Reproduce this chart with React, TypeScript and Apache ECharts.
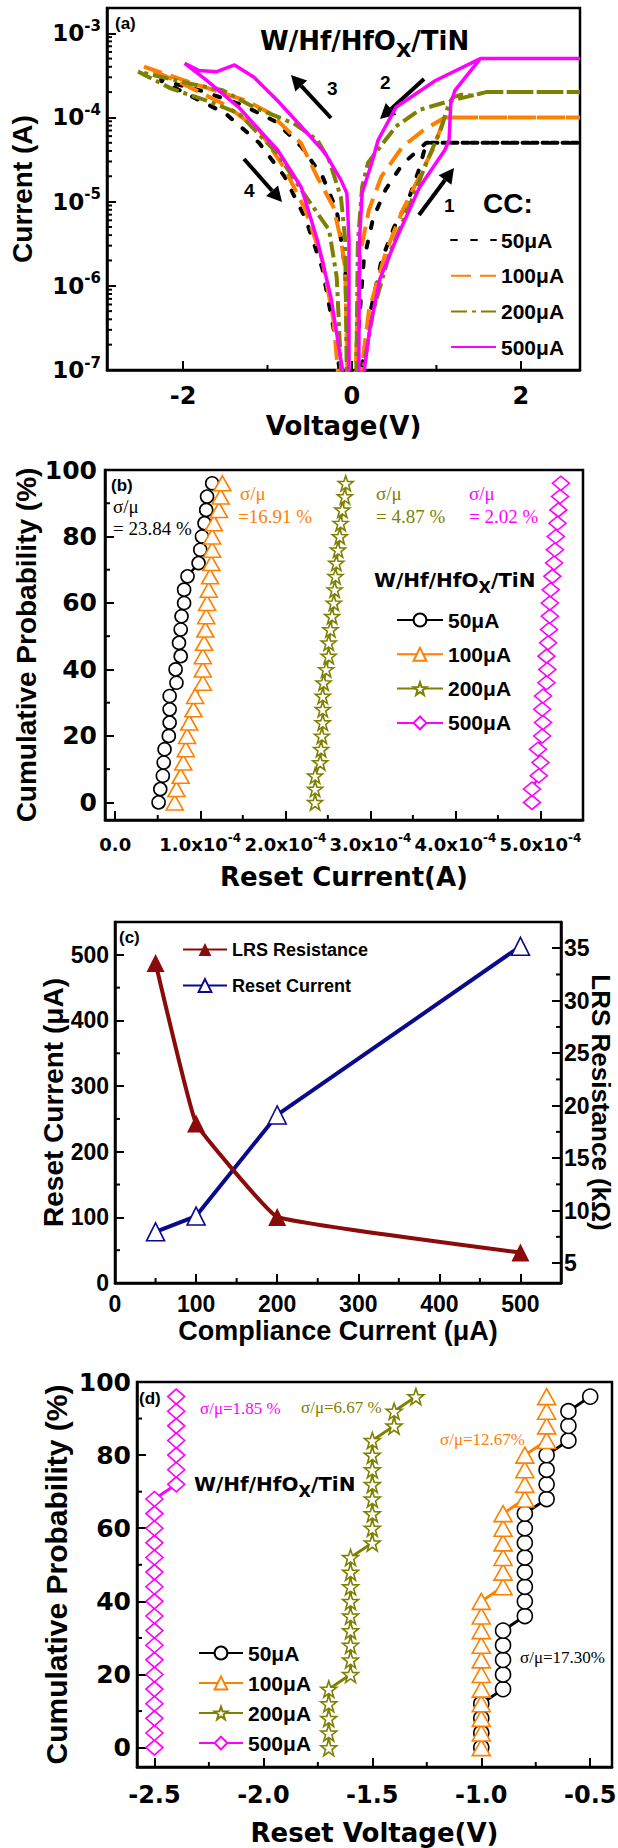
import React, { useEffect, useRef } from "react";
import * as echarts from "echarts";

// ---------------- Panel (a): I-V hysteresis loops ----------------
const ivVolt50 = [0.08, 0.2, 0.35, 0.5, 0.66, 0.8, 0.88, 2.7, 0.88, 0.6, 0.4, 0.25, 0.14, 0.08, 0.05, -0.03, -0.08, -0.18, -0.35, -0.6, -0.9, -1.3, -1.8, -2.28, -1.9, -1.5, -1.1, -0.8, -0.55, -0.35, -0.2, -0.12];
const ivCurr50 = [6.3e-8, 4.0e-7, 2.0e-6, 5.0e-6, 1.0e-5, 2.5e-5, 5.0e-5, 5.0e-5, 5.0e-5, 2.8e-5, 1.4e-5, 6.3e-6, 2.0e-6, 3.2e-7, 6.3e-8, 6.3e-8, 1.6e-6, 7.9e-6, 2.0e-5, 4.5e-5, 8.9e-5, 1.41e-4, 2.1e-4, 2.8e-4, 1.78e-4, 1.12e-4, 5.0e-5, 2.0e-5, 6.3e-6, 1.6e-6, 2.5e-7, 6.3e-8];
const ivVolt100 = [0.09, 0.2, 0.4, 0.6, 0.8, 0.95, 1.1, 2.7, 1.1, 0.85, 0.6, 0.35, 0.2, 0.1, 0.06, 0.04, -0.05, -0.08, -0.13, -0.22, -0.41, -0.6, -0.97, -1.25, -1.81, -2.46, -2.0, -1.5, -1.1, -0.8, -0.55, -0.35, -0.22, -0.15];
const ivCurr100 = [6.3e-8, 5.0e-7, 2.5e-6, 7.9e-6, 2.0e-5, 4.0e-5, 1.0e-4, 1.0e-4, 1.0e-4, 7.1e-5, 4.5e-5, 2.0e-5, 7.9e-6, 2.5e-6, 3.2e-7, 6.3e-8, 6.3e-8, 1.6e-6, 3.5e-6, 8.7e-6, 1.95e-5, 4.9e-5, 1.12e-4, 1.58e-4, 2.4e-4, 4.0e-4, 2.5e-4, 1.41e-4, 7.1e-5, 2.5e-5, 7.9e-6, 2.0e-6, 4.0e-7, 6.3e-8];
const ivVolt200 = [0.1, 0.25, 0.45, 0.7, 0.9, 1.05, 1.15, 1.2, 1.3, 1.42, 1.59, 2.7, 1.59, 1.17, 0.8, 0.52, 0.19, 0.12, 0.07, 0.05, -0.06, -0.08, -0.13, -0.27, -0.41, -0.69, -1.16, -1.53, -1.9, -2.53, -2.14, -1.72, -1.34, -0.88, -0.6, -0.27, -0.18, -0.12];
const ivCurr200 = [6.3e-8, 5.0e-7, 2.5e-6, 1.0e-5, 3.2e-5, 7.1e-5, 1.48e-4, 1.74e-4, 1.86e-4, 1.82e-4, 2.0e-4, 2.0e-4, 2.0e-4, 1.58e-4, 1.23e-4, 7.8e-5, 2.9e-5, 1.48e-5, 3.2e-6, 6.3e-8, 6.3e-8, 3.5e-6, 1.12e-5, 3.1e-5, 5.4e-5, 8.5e-5, 1.32e-4, 2.1e-4, 2.5e-4, 3.5e-4, 2.2e-4, 1.58e-4, 1.12e-4, 3.7e-5, 1.38e-5, 4.6e-6, 1.26e-6, 6.3e-8];
const ivVolt500 = [0.12, 0.21, 0.33, 0.52, 0.8, 1.1, 1.15, 1.17, 1.22, 1.52, 2.7, 1.52, 0.99, 0.52, 0.31, 0.235, 0.12, 0.09, 0.08, -0.035, -0.035, -0.06, -0.13, -0.32, -0.6, -0.88, -1.16, -1.39, -1.6, -1.81, -1.98, -1.72, -1.34, -0.88, -0.6, -0.41, -0.25, -0.08];
const ivCurr500 = [6.3e-8, 3.0e-7, 1.2e-6, 3.5e-6, 1.48e-5, 4.1e-5, 5.4e-5, 1.48e-4, 2.1e-4, 5.0e-4, 5.0e-4, 5.0e-4, 2.75e-4, 1.32e-4, 5.4e-5, 2.9e-5, 1.26e-5, 3.5e-6, 6.3e-8, 6.3e-8, 3.5e-6, 1.26e-5, 1.8e-5, 3.8e-5, 7.8e-5, 1.58e-4, 3.0e-4, 4.2e-4, 3.5e-4, 3.6e-4, 4.4e-4, 2.75e-4, 1.32e-4, 4.1e-5, 1.48e-5, 3.5e-6, 7.4e-7, 6.3e-8];
const ccLabels = ["50μA", "100μA", "200μA", "500μA"];
const aXMajor = [-2, 0, 2];
const aXMinor = [-1, 1];
const aYDecades = [1e-7, 1e-6, 1e-5, 1e-4, 1e-3];
const aYMinorMult = [2, 3, 4, 5, 6, 7, 8, 9];

// ---------------- Panel (b): reset current distribution ----------------
const cumProb = [0, 4, 8, 12, 16, 20, 24, 28, 32, 36, 40, 44, 48, 52, 56, 60, 64, 68, 72, 76, 80, 84, 88, 92, 96];
const resetI50 = [0.51e-4, 0.53e-4, 0.56e-4, 0.57e-4, 0.58e-4, 0.63e-4, 0.64e-4, 0.64e-4, 0.64e-4, 0.72e-4, 0.71e-4, 0.77e-4, 0.75e-4, 0.77e-4, 0.78e-4, 0.81e-4, 0.81e-4, 0.85e-4, 0.98e-4, 1.0e-4, 1.02e-4, 1.05e-4, 1.07e-4, 1.08e-4, 1.14e-4];
const resetI100 = [0.7e-4, 0.72e-4, 0.77e-4, 0.8e-4, 0.83e-4, 0.845e-4, 0.87e-4, 0.92e-4, 0.94e-4, 1.03e-4, 1.03e-4, 1.03e-4, 1.045e-4, 1.06e-4, 1.07e-4, 1.08e-4, 1.1e-4, 1.115e-4, 1.13e-4, 1.14e-4, 1.14e-4, 1.16e-4, 1.22e-4, 1.24e-4, 1.26e-4];
const resetI200 = [2.35e-4, 2.35e-4, 2.35e-4, 2.41e-4, 2.42e-4, 2.43e-4, 2.44e-4, 2.44e-4, 2.44e-4, 2.45e-4, 2.48e-4, 2.51e-4, 2.51e-4, 2.53e-4, 2.55e-4, 2.57e-4, 2.58e-4, 2.59e-4, 2.6e-4, 2.62e-4, 2.64e-4, 2.65e-4, 2.67e-4, 2.7e-4, 2.71e-4];
const resetI500 = [4.9e-4, 4.9e-4, 4.98e-4, 5.0e-4, 4.97e-4, 5.02e-4, 5.03e-4, 5.02e-4, 5.03e-4, 5.07e-4, 5.08e-4, 5.07e-4, 5.09e-4, 5.1e-4, 5.11e-4, 5.11e-4, 5.12e-4, 5.14e-4, 5.16e-4, 5.17e-4, 5.18e-4, 5.2e-4, 5.21e-4, 5.23e-4, 5.24e-4];
const bXMajor = [0, 1e-4, 2e-4, 3e-4, 4e-4, 5e-4];
const bXMinor = [0.5e-4, 1.5e-4, 2.5e-4, 3.5e-4, 4.5e-4];
const probMajor = [0, 20, 40, 60, 80, 100];
const probMinor = [10, 30, 50, 70, 90];
const sigmaB = ["= 23.84 %", "=16.91 %", "= 4.87 %", "= 2.02 %"];

// ---------------- Panel (c): vs compliance current ----------------
const compliance = [50, 100, 200, 500];
const lrsResistance = [33.6, 18.3, 9.4, 6.0];
const resetCurrentUA = [78, 102, 256, 513];
const cXMajor = [0, 100, 200, 300, 400, 500];
const cXMinor = [50, 150, 250, 350, 450];
const cYLMajor = [0, 100, 200, 300, 400, 500];
const cYLMinor = [50, 150, 250, 350, 450];
const cYRMajor = [5, 10, 15, 20, 25, 30, 35];
const cYRMinor = [7.5, 12.5, 17.5, 22.5, 27.5, 32.5];

// ---------------- Panel (d): reset voltage distribution ----------------
const resetV50 = [-1.0, -1.0, -1.0, -1.0, -0.9, -0.9, -0.9, -0.9, -0.9, -0.8, -0.8, -0.8, -0.8, -0.8, -0.8, -0.8, -0.8, -0.7, -0.7, -0.7, -0.7, -0.6, -0.6, -0.6, -0.5];
const resetV100 = [-1.0, -1.0, -1.0, -1.0, -1.0, -1.0, -1.0, -1.0, -1.0, -1.0, -1.0, -0.9, -0.9, -0.9, -0.9, -0.9, -0.9, -0.8, -0.8, -0.8, -0.8, -0.7, -0.7, -0.7, -0.7];
const resetV200 = [-1.7, -1.7, -1.7, -1.7, -1.7, -1.6, -1.6, -1.6, -1.6, -1.6, -1.6, -1.6, -1.6, -1.6, -1.5, -1.5, -1.5, -1.5, -1.5, -1.5, -1.5, -1.5, -1.4, -1.4, -1.3];
const resetV500 = [-2.5, -2.5, -2.5, -2.5, -2.5, -2.5, -2.5, -2.5, -2.5, -2.5, -2.5, -2.5, -2.5, -2.5, -2.5, -2.5, -2.5, -2.5, -2.4, -2.4, -2.4, -2.4, -2.4, -2.4, -2.4];
const dXMajor = [-2.5, -2.0, -1.5, -1.0, -0.5];
const dXMinor = [-2.25, -1.75, -1.25, -0.75];
const sigmaD = ["σ/μ=17.30%", "σ/μ=12.67%", "σ/μ=6.67 %", "σ/μ=1.85 %"];

const COLORS = ["#000000", "#FF8000", "#808000", "#FF00FF"];
const FONT_SANS = '"Liberation Sans", Arial, sans-serif';
const FONT_WIDE = '"DejaVu Sans", sans-serif';
const FONT_SERIF = '"Liberation Serif", "Times New Roman", serif';
const STAR = "path://M50 0L61.76 33.82L97.55 34.55L69.02 56.18L79.39 90.45L50 70L20.61 90.45L30.98 56.18L2.45 34.55L38.24 33.82Z";

function axis(gridIndex: number, min: number, max: number, major: number[], label: any, extra: any = {}) {
  return {
    type: "value",
    gridIndex,
    min,
    max,
    nameMoveOverlap: false,
    axisLine: { show: true, onZero: false, lineStyle: { color: "#000", width: 2.5 } },
    axisTick: { show: true, inside: true, length: 9, customValues: major, lineStyle: { color: "#000", width: 2 } },
    axisLabel: { customValues: major, hideOverlap: false, color: "#000", fontWeight: "bold", ...label },
    splitLine: { show: false },
    minorTick: { show: false },
    ...extra,
  };
}

function nameStyle(size: number, family: string) {
  return { fontSize: size, fontFamily: family, fontWeight: "bold", color: "#000", verticalAlign: "middle" };
}

function minorTicks(xi: number, yi: number, values: number[], dir: "x" | "y", edge: number, len: number) {
  return {
    type: "custom",
    xAxisIndex: xi,
    yAxisIndex: yi,
    silent: true,
    clip: false,
    z: 10,
    data: values.map((v) => (dir === "y" ? [edge, v] : [v, edge])),
    renderItem: (_p: any, api: any) => {
      const pt = api.coord([api.value(0), api.value(1)]);
      const shape =
        dir === "y"
          ? { x1: pt[0], y1: pt[1], x2: pt[0] + len, y2: pt[1] }
          : { x1: pt[0], y1: pt[1], x2: pt[0], y2: pt[1] - len };
      return { type: "line", shape, style: { stroke: "#000", lineWidth: 2 } };
    },
  };
}

function arrow(x1: number, y1: number, x2: number, y2: number) {
  const dx = x2 - x1, dy = y2 - y1;
  const L = Math.hypot(dx, dy);
  const ux = dx / L, uy = dy / L;
  const hl = 15, hw = 8;
  const bx = x2 - ux * hl, by = y2 - uy * hl;
  return [
    { type: "line", shape: { x1, y1, x2: bx, y2: by }, style: { stroke: "#000", lineWidth: 4 } },
    { type: "polygon", shape: { points: [[x2, y2], [bx - uy * hw, by + ux * hw], [bx + uy * hw, by - ux * hw]] }, style: { fill: "#000" } },
  ];
}

function txt(x: number, y: number, text: string, size: number, color = "#000", family = FONT_SANS, weight = "bold") {
  return { type: "text", x, y, z: 50, style: { text, fill: color, fontSize: size, fontFamily: family, fontWeight: weight, align: "left", verticalAlign: "middle" } };
}

function deviceLabel(x: number, y: number, size: number, sub: number, pad: number) {
  return {
    type: "text",
    x,
    y,
    z: 50,
    style: {
      text: "{m|W/Hf/HfO}{s|X}{m|/TiN}",
      align: "left",
      verticalAlign: "middle",
      rich: {
        m: { fontSize: size, fontFamily: FONT_WIDE, fontWeight: "bold", fill: "#000", lineHeight: size + 4, verticalAlign: "middle" },
        s: { fontSize: sub, fontFamily: FONT_WIDE, fontWeight: "bold", fill: "#000", lineHeight: sub, padding: [pad, 0, 0, 0], verticalAlign: "top" },
      },
    },
  };
}

export default function App() {
  const ref = useRef<HTMLDivElement>(null);

  useEffect(() => {
    document.body.style.margin = "0";
    if (!ref.current) return;
    const chart = echarts.init(ref.current, undefined, { renderer: "svg" });

    const legendNames: Record<string, string> = {};
    ["a", "b", "d"].forEach((p) => ccLabels.forEach((l, k) => (legendNames[p + k] = l)));
    legendNames["cL"] = "LRS Resistance";
    legendNames["cR"] = "Reset Current";

    const ivSets = [
      { v: ivVolt50, i: ivCurr50, style: { type: [6, 14], width: 4, cap: "round" } },
      { v: ivVolt100, i: ivCurr100, style: { type: [20, 9], width: 4 } },
      { v: ivVolt200, i: ivCurr200, style: { type: [16, 5, 4, 5], width: 4 } },
      { v: ivVolt500, i: ivCurr500, style: { type: "solid", width: 3.5 } },
    ];
    const ivSeries = ivSets.map((s, k) => ({
      name: "a" + k,
      type: "line",
      xAxisIndex: 0,
      yAxisIndex: 0,
      symbol: "none",
      clip: true,
      data: s.v.map((v, j) => [v, Math.log10(s.i[j])]),
      lineStyle: { color: COLORS[k], ...s.style },
      itemStyle: { color: COLORS[k] },
      z: 3 + k,
    }));

    const aYMinor: number[] = [];
    aYDecades.slice(0, 4).forEach((d) => aYMinorMult.forEach((m) => aYMinor.push(Math.log10(d * m))));

    const bSym = [
      { symbol: "circle", size: 13 },
      { symbol: "triangle", size: [17, 15] },
      { symbol: STAR, size: 15 },
      { symbol: "diamond", size: [17, 14] },
    ];
    const dSym = [
      { symbol: "circle", size: 15 },
      { symbol: "triangle", size: [18, 16] },
      { symbol: STAR, size: 16 },
      { symbol: "diamond", size: [17, 15] },
    ];
    const bSeries = [resetI50, resetI100, resetI200, resetI500].map((arr, k) => ({
      name: "b" + k,
      type: "line",
      xAxisIndex: 1,
      yAxisIndex: 1,
      data: arr.map((x, j) => [x, cumProb[j]]),
      symbol: bSym[k].symbol,
      symbolSize: bSym[k].size,
      itemStyle: { color: "#fff", borderColor: COLORS[k], borderWidth: 1.6 },
      lineStyle: { color: COLORS[k], width: 2.5 },
      z: 3 + k,
    }));
    const dSeries = [resetV50, resetV100, resetV200, resetV500].map((arr, k) => ({
      name: "d" + k,
      type: "line",
      xAxisIndex: 3,
      yAxisIndex: 4,
      data: arr.map((x, j) => [x, cumProb[j]]),
      symbol: dSym[k].symbol,
      symbolSize: dSym[k].size,
      itemStyle: { color: "#fff", borderColor: COLORS[k], borderWidth: 1.6 },
      lineStyle: { color: COLORS[k], width: 3 },
      z: 3 + k,
    }));

    const RED = "#8B0A0A";
    const NAVY = "#0A0A8C";
    const cSeries = [
      {
        name: "cL",
        type: "line",
        xAxisIndex: 2,
        yAxisIndex: 3,
        data: compliance.map((c, j) => [c, lrsResistance[j]]),
        symbol: "triangle",
        symbolSize: 18,
        smooth: 0.08,
        itemStyle: { color: RED },
        lineStyle: { color: RED, width: 4 },
        z: 4,
      },
      {
        name: "cR",
        type: "line",
        xAxisIndex: 2,
        yAxisIndex: 2,
        data: compliance.map((c, j) => [c, resetCurrentUA[j]]),
        symbol: "triangle",
        symbolSize: 18,
        itemStyle: { color: "#fff", borderColor: NAVY, borderWidth: 1.6 },
        lineStyle: { color: NAVY, width: 4 },
        z: 3,
      },
    ];

    const legendText = (size: number, family = FONT_SANS) => ({ fontSize: size, fontFamily: family, fontWeight: "bold", color: "#000", lineHeight: size + 1 });
    const fmt = (n: string) => legendNames[n];

    const supRich = (b: number, s: number, lh: number) => ({
      b: { fontSize: b, fontFamily: FONT_WIDE, fontWeight: "bold", color: "#000", lineHeight: lh, verticalAlign: "middle" },
      s: { fontSize: s, fontFamily: FONT_WIDE, fontWeight: "bold", color: "#000", lineHeight: s, verticalAlign: "top" },
    });

    const option: any = {
      animation: false,
      backgroundColor: "#fff",
      grid: [
        { left: 107, top: 8, width: 473, height: 362 },
        { left: 105, top: 470, width: 478, height: 350 },
        { left: 115, top: 922, width: 446, height: 361 },
        { left: 137, top: 1382, width: 475, height: 385 },
      ].map((g) => ({ ...g, show: true, borderColor: "#000", borderWidth: 2.5, backgroundColor: "transparent", containLabel: false, outerBoundsMode: "none" })),
      xAxis: [
        axis(0, -2.9, 2.7, aXMajor, { fontSize: 24, fontFamily: FONT_WIDE, margin: 14, formatter: (v: number) => String(v) }, {
          name: "Voltage(V)", nameLocation: "middle", nameGap: 56, nameTextStyle: nameStyle(26, FONT_WIDE),
        }),
        axis(1, -1.2e-5, 5.5e-4, bXMajor, {
          margin: 12,
          formatter: (v: number) => (Math.abs(v) < 1e-12 ? "{b|0.0}" : `{b|${(v * 1e4).toFixed(1)}x10}{s|-4}`),
          rich: supRich(18, 12, 24),
        }, { name: "Reset Current(A)", nameLocation: "middle", nameGap: 57, nameTextStyle: nameStyle(26, FONT_WIDE) }),
        axis(2, 0, 550, cXMajor, { fontSize: 23, fontFamily: FONT_SANS, margin: 9 }, {
          name: "Compliance Current (μA)", nameLocation: "middle", nameGap: 48, nameTextStyle: nameStyle(27, FONT_SANS),
        }),
        axis(3, -2.58, -0.4, dXMajor, { fontSize: 24, fontFamily: FONT_WIDE, margin: 16, formatter: (v: number) => v.toFixed(1) }, {
          name: "Reset Voltage(V)", nameLocation: "middle", nameGap: 66, nameTextStyle: nameStyle(26, FONT_WIDE),
        }),
      ],
      yAxis: [
        axis(0, -7, -2.7, aYDecades.map((d) => Math.log10(d)), {
          margin: 6,
          formatter: (v: number) => `{b|10}{s|${Math.round(v)}}`,
          rich: supRich(23, 15, 30),
        }, { name: "Current (A)", nameLocation: "middle", nameGap: 85, nameTextStyle: nameStyle(28, FONT_SANS) }),
        axis(1, -5.3, 100, probMajor, { fontSize: 25, fontFamily: FONT_WIDE, margin: 8 }, {
          name: "Cumulative Probability (%)", nameLocation: "middle", nameGap: 79, nameTextStyle: nameStyle(28, FONT_SANS),
        }),
        axis(2, 0, 550, cYLMajor, { fontSize: 23, fontFamily: FONT_SANS, margin: 6 }, {
          name: "Reset Current (μA)", nameLocation: "middle", nameGap: 62, nameTextStyle: nameStyle(28, FONT_SANS),
        }),
        axis(2, 3.1, 37.5, cYRMajor, { fontSize: 23, fontFamily: FONT_SANS, margin: 3 }, {
          position: "right", name: "LRS Resistance (kΩ)", nameLocation: "middle", nameGap: 40, nameRotate: -90, nameTextStyle: nameStyle(26, FONT_SANS),
        }),
        axis(3, -5.3, 100, probMajor, { fontSize: 25, fontFamily: FONT_WIDE, margin: 6 }, {
          name: "Cumulative Probability (%)", nameLocation: "middle", nameGap: 81, nameTextStyle: nameStyle(30, FONT_SANS),
        }),
      ],
      legend: [
        {
          data: ["a0", "a1", "a2", "a3"], left: 450, top: 229, orient: "vertical", itemWidth: 45, itemHeight: 14, itemGap: 13.7, padding: 0, selectedMode: false, formatter: fmt, textStyle: legendText(21),
          itemStyle: { color: "transparent", borderColor: "transparent", borderWidth: 0, opacity: 0 },
        },
        { data: ["b0", "b1", "b2", "b3"], left: 396, top: 609, orient: "vertical", itemWidth: 46, itemHeight: 16, itemGap: 12.3, padding: 0, selectedMode: false, formatter: fmt, textStyle: legendText(21) },
        { data: ["cL", "cR"], left: 182, top: 940, orient: "vertical", itemWidth: 44, itemHeight: 16, itemGap: 17, padding: 0, selectedMode: false, formatter: fmt, textStyle: legendText(18) },
        { data: ["d0", "d1", "d2", "d3"], left: 198, top: 1642, orient: "vertical", itemWidth: 44, itemHeight: 16, itemGap: 8, padding: 0, selectedMode: false, formatter: fmt, textStyle: legendText(21) },
      ],
      series: [
        ...ivSeries,
        ...bSeries,
        ...cSeries,
        ...dSeries,
        minorTicks(0, 0, aXMinor, "x", -7, 5),
        minorTicks(0, 0, aYMinor, "y", -2.9, 5),
        minorTicks(1, 1, bXMinor, "x", -5.3, 5),
        minorTicks(1, 1, probMinor, "y", -1.2e-5, 5),
        minorTicks(2, 2, cXMinor, "x", 0, 5),
        minorTicks(2, 2, cYLMinor, "y", 0, 5),
        minorTicks(2, 3, cYRMinor, "y", 550, -5),
        minorTicks(3, 4, dXMinor, "x", -5.3, 5),
        minorTicks(3, 4, probMinor, "y", -2.58, 5),
      ],
      graphic: {
        elements: [
          // panel (a)
          txt(115, 23, "(a)", 17),
          deviceLabel(260, 41, 26, 20, 14),
          txt(483, 203, "CC:", 28),
          ...arrow(331, 118, 291, 75),
          ...arrow(424, 79, 380, 119),
          ...arrow(244, 159, 282, 202),
          ...arrow(419, 215, 454, 168),
          txt(327, 88, "3", 19),
          txt(380, 82, "2", 19),
          txt(244, 190, "4", 19),
          txt(444, 205, "1", 19),
          // panel (b)
          txt(111, 485, "(b)", 17),
          txt(113, 506, "σ/μ", 19, COLORS[0], FONT_SERIF, "normal"),
          txt(113, 528, sigmaB[0], 19, COLORS[0], FONT_SERIF, "normal"),
          txt(240, 493, "σ/μ", 19, COLORS[1], FONT_SERIF, "normal"),
          txt(238, 516, sigmaB[1], 19, COLORS[1], FONT_SERIF, "normal"),
          txt(376, 493, "σ/μ", 19, COLORS[2], FONT_SERIF, "normal"),
          txt(376, 516, sigmaB[2], 19, COLORS[2], FONT_SERIF, "normal"),
          txt(469, 493, "σ/μ", 19, COLORS[3], FONT_SERIF, "normal"),
          txt(469, 516, sigmaB[3], 19, COLORS[3], FONT_SERIF, "normal"),
          deviceLabel(374, 580, 20, 16, 11),
          // panel (c)
          txt(119, 937, "(c)", 17),
          // panel (d)
          txt(139, 1398, "(d)", 17),
          txt(200, 1408, sigmaD[3], 17, COLORS[3], FONT_SERIF, "normal"),
          txt(301, 1407, sigmaD[2], 17, COLORS[2], FONT_SERIF, "normal"),
          txt(440, 1439, sigmaD[1], 17, COLORS[1], FONT_SERIF, "normal"),
          txt(520, 1657, sigmaD[0], 17, COLORS[0], FONT_SERIF, "normal"),
          deviceLabel(194, 1484, 20, 16, 11),
        ],
      },
    };

    chart.setOption(option);
    return () => chart.dispose();
  }, []);

  return <div ref={ref} style={{ width: 618, height: 1848 }} />;
}
